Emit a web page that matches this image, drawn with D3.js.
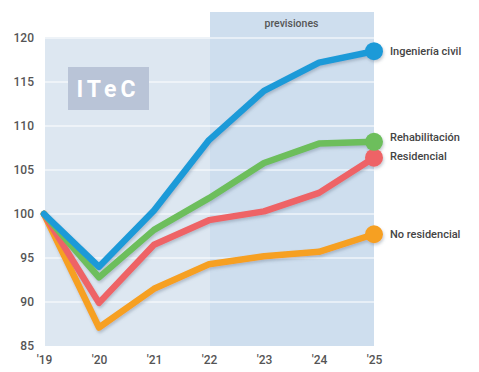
<!DOCTYPE html>
<html>
<head>
<meta charset="utf-8">
<script src="https://cdn.jsdelivr.net/npm/d3@7"></script>
<style>
  body { margin: 0; background: #fff; }
  #viz-container { width: 479px; height: 372px; }
  text { font-family: Roboto, "Liberation Sans", sans-serif; }
</style>
</head>
<body>
<div id="viz-container"></div>
<script>
const years = ["'19", "'20", "'21", "'22", "'23", "'24", "'25"];
const yTicks = [85, 90, 95, 100, 105, 110, 115, 120];

const ingenieria = [100, 94.0, 100.4, 108.4, 114.0, 117.2, 118.5];
const rehabilitacion = [100, 92.8, 98.2, 101.8, 105.8, 108.0, 108.2];
const residencial = [100, 89.9, 96.5, 99.3, 100.3, 102.4, 106.4];
const noResidencial = [100, 87.1, 91.5, 94.3, 95.2, 95.7, 97.7];

const series = [
  { name: "No residencial", values: noResidencial, color: "#f6a023", labelDy: 0 },
  { name: "Residencial", values: residencial, color: "#ee6466", labelDy: -1.5 },
  { name: "Rehabilitación", values: rehabilitacion, color: "#6dbe5b", labelDy: -5 },
  { name: "Ingeniería civil", values: ingenieria, color: "#1f9ad8", labelDy: 0 },
];

const width = 479, height = 372;
const svg = d3.select("#viz-container").append("svg")
  .attr("width", width).attr("height", height);

const x = d3.scalePoint().domain(years).range([44, 374]);
const y = d3.scaleLinear().domain([85, 120]).range([346, 38]);

// drop shadow for lines
const defs = svg.append("defs");
const f = defs.append("filter").attr("id", "shadow")
  .attr("x", "-10%").attr("y", "-10%").attr("width", "120%").attr("height", "130%");
f.append("feDropShadow").attr("dx", 1).attr("dy", 2).attr("stdDeviation", 1.5)
  .attr("flood-color", "#5a6a80").attr("flood-opacity", 0.35);

// backgrounds
svg.append("rect").attr("x", 45).attr("y", 37)
  .attr("width", x("'25") - 45).attr("height", y(85) - 37)
  .attr("fill", "#dde7f1");
svg.append("rect").attr("x", x("'22") + 1).attr("y", 12)
  .attr("width", x("'25") - x("'22") - 1).attr("height", y(85) - 12)
  .attr("fill", "#cedeee");

svg.append("text").attr("x", (x("'22") + x("'25")) / 2).attr("y", 27)
  .attr("text-anchor", "middle").attr("font-size", 10.5).attr("font-weight", 500)
  .attr("fill", "#555").text("previsiones");

// grid
svg.append("g").selectAll("line").data(yTicks.filter(d => d > 85)).join("line")
  .attr("x1", 45).attr("x2", x("'25"))
  .attr("y1", d => y(d)).attr("y2", d => y(d))
  .attr("stroke", "#fff").attr("stroke-width", 1.2);

// axes
const yAxis = svg.append("g").attr("transform", "translate(34,0)")
  .call(d3.axisLeft(y).tickValues(yTicks).tickSize(0).tickPadding(0));
yAxis.select(".domain").remove();
yAxis.selectAll("text").attr("font-size", 12).attr("font-weight", 500)
  .attr("fill", "#555").attr("font-family", "Roboto, sans-serif");

const xAxis = svg.append("g").attr("transform", "translate(0,355)")
  .call(d3.axisBottom(x).tickSize(0).tickPadding(0));
xAxis.select(".domain").remove();
xAxis.selectAll("text").attr("font-size", 12).attr("font-weight", 500)
  .attr("fill", "#555").attr("font-family", "Roboto, sans-serif");

// ITeC logo
svg.append("rect").attr("x", 68).attr("y", 67).attr("width", 81).attr("height", 43)
  .attr("fill", "#b9c4d7");
svg.append("text").attr("x", 108).attr("y", 97).attr("text-anchor", "middle")
  .attr("font-size", 23).attr("font-weight", "bold").attr("letter-spacing", 4)
  .attr("fill", "#fff").text("ITeC");

// lines
const line = d3.line().x((d, i) => x(years[i])).y(d => y(d));
const g = svg.append("g").attr("filter", "url(#shadow)");
series.forEach(s => {
  g.append("path").datum(s.values)
    .attr("d", line).attr("fill", "none")
    .attr("stroke", s.color).attr("stroke-width", 6.5)
    .attr("stroke-linejoin", "round").attr("stroke-linecap", "round");
});
series.forEach(s => {
  const last = s.values[s.values.length - 1];
  g.append("circle").attr("cx", x("'25")).attr("cy", y(last)).attr("r", 9)
    .attr("fill", s.color);
});

// labels
svg.append("g").selectAll("text").data(series).join("text")
  .attr("x", 390).attr("y", d => y(d.values[d.values.length - 1]) + d.labelDy)
  .attr("dy", "0.35em").attr("font-size", 11).attr("font-weight", 500)
  .attr("fill", "#444").text(d => d.name);
</script>
</body>
</html>
